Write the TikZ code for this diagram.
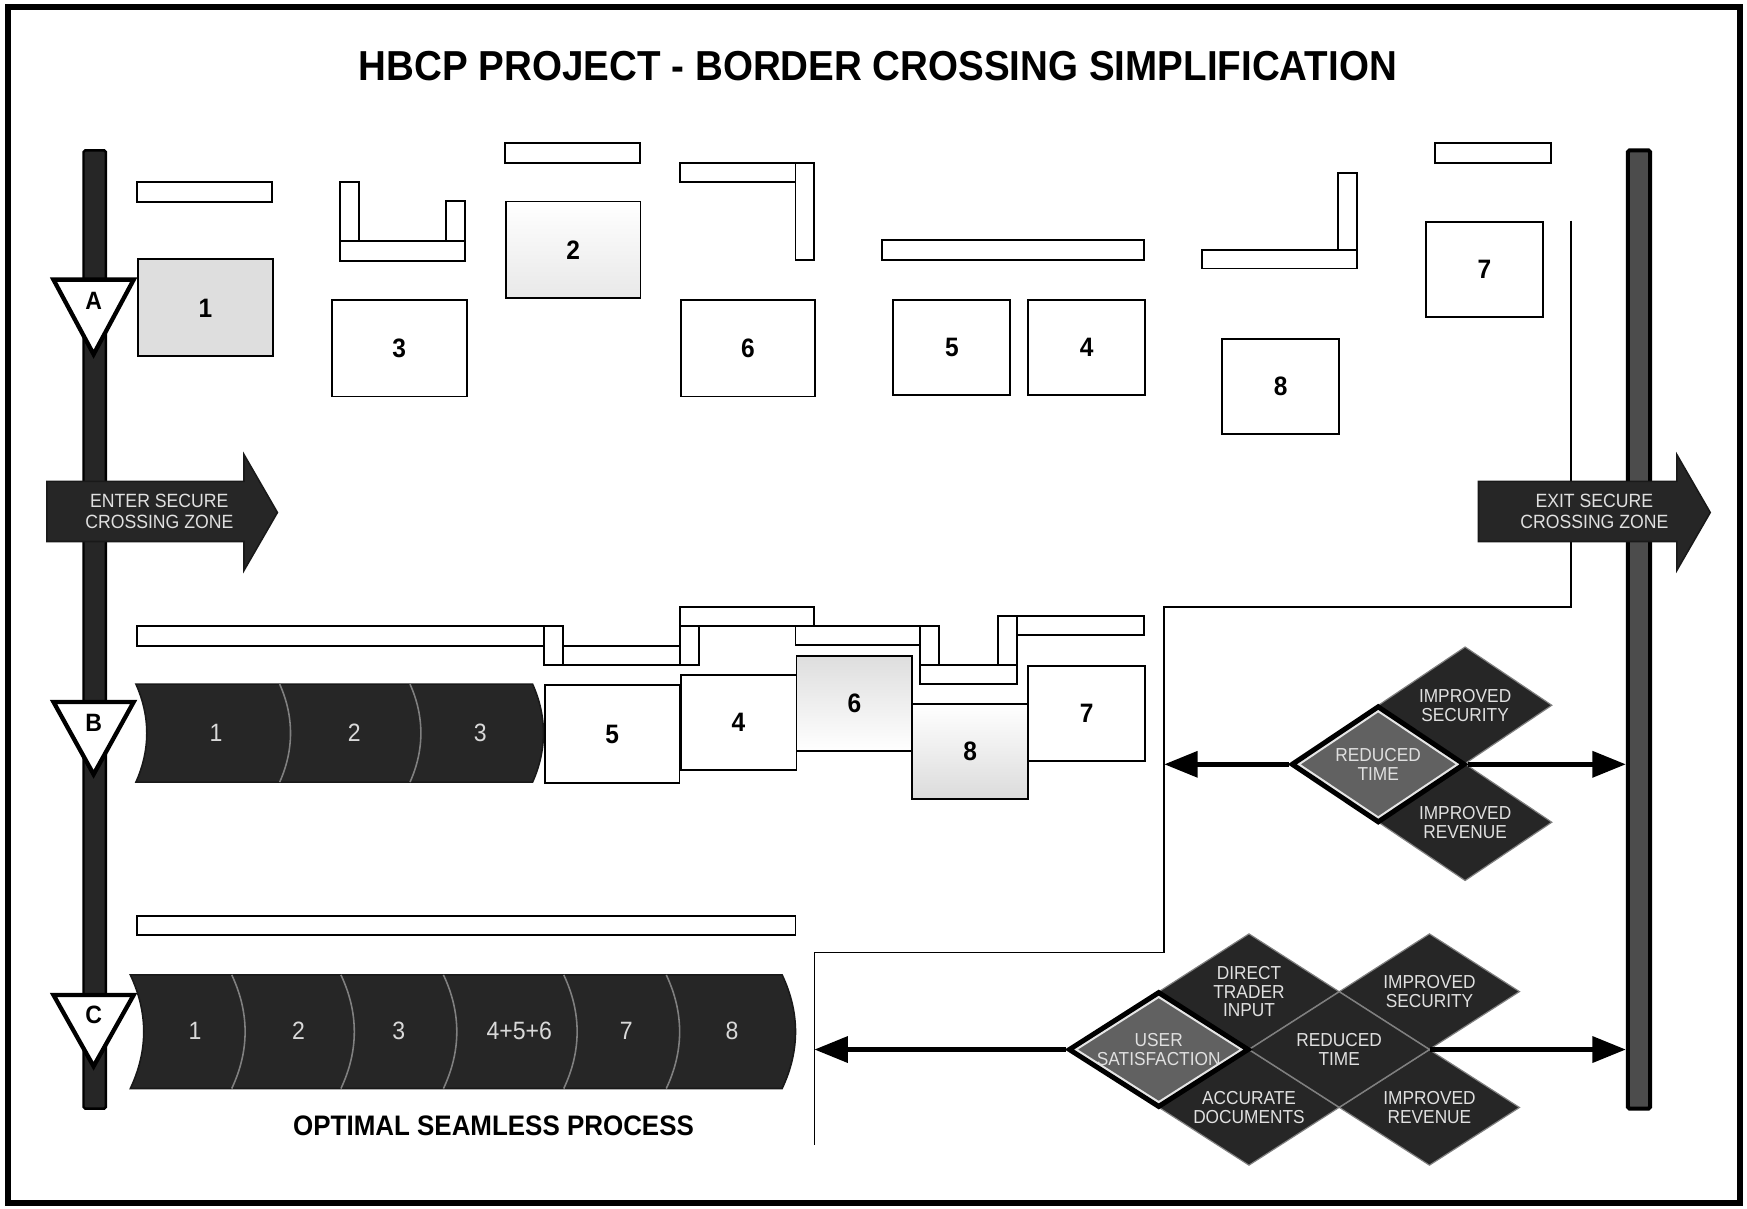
\documentclass[tikz,border=0pt]{standalone}
\usepackage{fontspec}
\setmainfont{Liberation Sans}[FakeStretch=0.92]
\usetikzlibrary{shapes.geometric,arrows.meta}

\tikzset{
  outerframe/.style={draw=black, line width=0.55mm},
  guide/.style={draw=black, line width=0.45pt},
  barbox/.style={draw=black, fill=white, line width=0.5pt},
  stepnum/.style={draw=black, fill=white, line width=0.5pt, inner sep=0pt, anchor=north west,
     font=\bfseries\fontsize{6.8}{8}\selectfont},
  wbox/.style={stepnum, minimum width=12.1mm, minimum height=8.7mm},
  nbox/.style={stepnum, minimum width=10.5mm, minimum height=8.6mm},
  shaft/.style={draw=black, fill=black!85, line width=0.6pt, minimum width=2mm,
     minimum height=86mm, inner sep=0pt, rounded corners=0.4pt},
  zonemark/.style={draw=black, fill=white, line width=1.1pt, line join=miter},
  zonemarktext/.style={font=\bfseries\fontsize{6.4}{7}\selectfont},
  zonearrow/.style={fill=black!85, draw=black!90, line width=0.4pt},
  zonetext/.style={font=\fontsize{4.9}{5.4}\selectfont, text=black!12, align=center},
  procband/.style={fill=black!85, draw=black!90, line width=0.4pt},
  procsep/.style={draw=black!50, line width=0.4pt},
  proctext/.style={font=\fontsize{6.4}{7}\selectfont, text=black!15},
  gain/.style={diamond, draw=black!50, line width=0.3pt, fill=black!85, inner sep=0pt},
  gainB/.style={gain, minimum width=15.6mm, minimum height=10.5mm},
  gainC/.style={gain, minimum width=16.2mm, minimum height=10.4mm},
  keygain/.style={fill=black!62, draw=black, line width=1.3pt},
  keyinner/.style={diamond, draw=black!10, line width=0.5pt, inner sep=0pt},
  gaintext/.style={font=\fontsize{4.8}{4.8}\selectfont, text=black!12, align=center},
  flow/.style={draw=black, line width=1.2pt, -{Triangle[length=3mm, width=2.3mm]}},
  headline/.style={font=\bfseries\fontsize{10.7}{12}\selectfont},
}

\begin{document}
\begin{tikzpicture}[x=0.1mm, y=-0.1mm]
\useasboundingbox (0,0) rectangle (1568,1085);
\fill[white] (0,0) rectangle (1568,1085);
\draw[outerframe] (7,6) rectangle (1562,1080);

\node[headline] (title) at (788,59) {HBCP PROJECT - BORDER CROSSING SIMPLIFICATION};

% thin guide line separating the three scenarios
\coordinate (g1) at (1410,198);
\coordinate (g2) at (1410,545);
\coordinate (g3) at (1045,545);
\coordinate (g4) at (1045,855);
\coordinate (g5) at (731,855);
\coordinate (g6) at (731,1028);
\draw[guide] (g1) -- (g2) -- (g3) -- (g4) -- (g5) -- (g6);

% entry and exit shafts
\node[shaft] (lshaft) at (85,565) {};
\node[shaft, fill=black!70, line width=1pt] (rshaft) at (1471,565) {};

% zone arrows
\path[zonearrow] (42,432) -- (219,432) -- (219,408) -- (249,460) -- (219,512) -- (219,486) -- (42,486) -- cycle;
\node[zonetext] (enter) at (143,459) {ENTER SECURE\\CROSSING ZONE};
\path[zonearrow] (1327,432) -- (1505,432) -- (1505,408) -- (1535,460) -- (1505,512) -- (1505,486) -- (1327,486) -- cycle;
\node[zonetext] (exit) at (1431,459) {EXIT SECURE\\CROSSING ZONE};

% scenario markers
\draw[zonemark] (48,251) -- (120,251) -- (84,318) -- cycle;
\node[zonemarktext] (mA) at (84,270) {A};
\draw[zonemark] (48,630) -- (120,630) -- (84,695) -- cycle;
\node[zonemarktext] (mB) at (84,649) {B};
\draw[zonemark] (48,893) -- (120,893) -- (84,957) -- cycle;
\node[zonemarktext] (mC) at (84,911) {C};

% ---- scenario A: separate steps ----
\draw[barbox] (123,163) rectangle (244,181);
\node[wbox, fill=black!13] (a1) at (123,232) {1};

\draw[barbox] (305,163) rectangle (322,216);
\draw[barbox] (400,180) rectangle (417,216);
\draw[barbox] (305,216) rectangle (417,234);
\node[wbox] (a3) at (297,268) {3};

\draw[barbox] (453,128) rectangle (574,146);
\node[wbox, top color=white, bottom color=black!9] (a2) at (453,180) {2};

\draw[barbox] (610,146) rectangle (714,163);
\draw[barbox] (714,146) rectangle (731,233);
\node[wbox] (a6) at (610,268) {6};

\draw[barbox] (792,215) rectangle (1027,233);
\node[nbox] (a5) at (801,268) {5};
\node[nbox] (a4) at (922,268) {4};

\draw[barbox] (1201,155) rectangle (1218,224);
\draw[barbox] (1079,224) rectangle (1218,241);
\node[nbox] (a8) at (1096,303) {8};

\draw[barbox] (1288,128) rectangle (1392,146);
\node[nbox] (a7) at (1279,198) {7};

% ---- scenario B: partly merged steps ----
\draw[barbox] (123,562) rectangle (488,580);
\draw[barbox] (488,562) rectangle (505,597);
\draw[barbox] (505,580) rectangle (610,597);
\draw[barbox] (610,562) rectangle (627,597);
\draw[barbox] (610,545) rectangle (731,562);
\draw[barbox] (714,562) rectangle (826,579);
\draw[barbox] (826,562) rectangle (843,597);
\draw[barbox] (826,597) rectangle (913,614);
\draw[barbox] (896,553) rectangle (913,597);
\draw[barbox] (913,553) rectangle (1027,570);

\node[wbox, minimum height=8.8mm] (b5) at (488,614) {5};
\node[nbox, minimum width=10.4mm, minimum height=8.5mm] (b4) at (610,605) {4};
\node[nbox, minimum width=10.4mm, minimum height=8.5mm, top color=black!13, bottom color=white] (b6) at (714,588) {6};
\node[nbox, minimum width=10.4mm, minimum height=8.5mm, top color=white, bottom color=black!14] (b8) at (818,631) {8};
\node[nbox, minimum height=8.5mm] (b7) at (922,597) {7};

\path[procband] (122,614) -- (478,614) .. controls (491,643) and (491,673) .. (478,702)
  -- (122,702) .. controls (135,673) and (135,643) .. (122,614) -- cycle;
\draw[procsep] (251,614) .. controls (264,643) and (264,673) .. (251,702);
\draw[procsep] (368,614) .. controls (381,643) and (381,673) .. (368,702);
\node[proctext] (p1) at (194,658) {1};
\node[proctext] (p2) at (318,658) {2};
\node[proctext] (p3) at (431,658) {3};

% benefits of scenario B
\node[gainB] (isB) at (1315,633) {};
\node[gainB] (irB) at (1315,738) {};
\node[gainB, keygain] (rtB) at (1237,686) {};
\node[keyinner, minimum width=14.3mm, minimum height=9.6mm] (rtBin) at (rtB) {};
\node[gaintext] (isBt) at (isB) {IMPROVED\\SECURITY};
\node[gaintext] (irBt) at (irB) {IMPROVED\\REVENUE};
\node[gaintext] (rtBt) at (rtB) {REDUCED\\TIME};
\draw[flow] (rtB.west) -- (rtB.west -| g3);
\draw[flow] (rtB.east) -- (rtB.east -| rshaft.west);

% ---- scenario C: one seamless process ----
\draw[barbox] (123,822) rectangle (714,839);
\path[procband] (117,875) -- (702,875) .. controls (718,909) and (718,943) .. (702,977)
  -- (117,977) .. controls (133,943) and (133,909) .. (117,875) -- cycle;
\foreach \sx in {208,306,398,506,598}
  \draw[procsep] (\sx,875) .. controls (\sx+16,909) and (\sx+16,943) .. (\sx,977);
\node[proctext] (c1) at (175,925) {1};
\node[proctext] (c2) at (268,925) {2};
\node[proctext] (c3) at (358,925) {3};
\node[proctext] (c456) at (466,925) {4+5+6};
\node[proctext] (c7) at (562,925) {7};
\node[proctext] (c8) at (657,925) {8};
\node[font=\bfseries\fontsize{7.2}{8}\selectfont] (optimal) at (443,1010) {OPTIMAL SEAMLESS PROCESS};

% benefits of scenario C
\node[gainC] (dtC) at (1121,890) {};
\node[gainC] (adC) at (1121,994) {};
\node[gainC] (isC) at (1283,890) {};
\node[gainC] (irC) at (1283,994) {};
\node[gainC] (rtC) at (1202,942) {};
\node[gainC, keygain] (usC) at (1040,942) {};
\node[keyinner, minimum width=14.9mm, minimum height=9.5mm] (usCin) at (usC) {};
\node[gaintext] (dtCt) at (dtC) {DIRECT\\TRADER\\INPUT};
\node[gaintext] (adCt) at (adC) {ACCURATE\\DOCUMENTS};
\node[gaintext] (isCt) at (isC) {IMPROVED\\SECURITY};
\node[gaintext] (irCt) at (irC) {IMPROVED\\REVENUE};
\node[gaintext] (rtCt) at (rtC) {REDUCED\\TIME};
\node[gaintext] (usCt) at (usC) {USER\\SATISFACTION};
\draw[flow] (usC.west) -- (usC.west -| g5);
\draw[flow] (rtC.east) -- (rtC.east -| rshaft.west);
\end{tikzpicture}
\end{document}
